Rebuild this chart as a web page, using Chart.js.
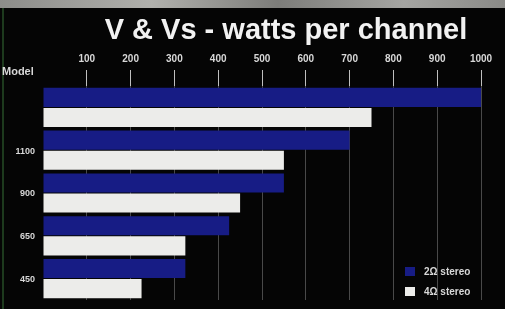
<!DOCTYPE html>
<html>
<head>
<meta charset="utf-8">
<script src="https://cdn.jsdelivr.net/npm/chart.js@4"></script>
<style>
  html, body { margin: 0; padding: 0; }
  body {
    width: 505px; height: 309px; overflow: hidden; position: relative;
    background: #050505;
    font-family: "Liberation Sans", Arial, sans-serif;
  }
  .strip { position: absolute; left: 0; top: 0; width: 505px; height: 8px;
    background: linear-gradient(90deg, #8d8d8a, #b0b0ac 30%, #7d7d7a 55%, #a5a5a2 80%, #8a8a87); }
  .edge { position: absolute; left: 2px; top: 8px; width: 2px; height: 301px; background: #1d3a1d; }
  .title { position: absolute; left: 96px; top: 13px; width: 380px; text-align: center;
    color: #f2f2f2; font-weight: bold; font-size: 29px; }
  .model { position: absolute; left: 2px; top: 65px; color: #d8d8d8; font-weight: bold; font-size: 11px; }
  #chart { position: absolute; left: 0; top: 0; }
</style>
</head>
<body>
<div class="strip"></div>
<div class="edge"></div>
<canvas id="chart" width="505" height="309"></canvas>
<div class="title">V &amp; Vs - watts per channel</div>
<div class="model">Model</div>
<script>
const CATEGORIES = ['', '1100', '900', '650', '450'];
const TWO_OHM = [1000, 700, 550, 425, 325];
const FOUR_OHM = [750, 550, 450, 325, 225];
const SERIES_LABELS = ['2\u03a9 stereo', '4\u03a9 stereo'];

const COLORS = {
  blue: '#171c85',
  white: '#ececea',
  grid: 'rgba(200, 200, 200, 0.35)',
  tick: 'rgba(225, 225, 225, 0.85)',
  text: '#d8d8d8',
};

// legend drawn inside the plot, bottom right
const insideLegend = {
  id: 'insideLegend',
  afterDraw(chart) {
    const { ctx, chartArea } = chart;
    const x = chartArea.right - 76;
    let y = chartArea.bottom - 33;
    ctx.save();
    ctx.font = 'bold 10px "Liberation Sans", Arial, sans-serif';
    ctx.textBaseline = 'middle';
    chart.data.datasets.forEach((ds) => {
      ctx.fillStyle = ds.backgroundColor;
      ctx.fillRect(x, y, 10, 9);
      ctx.fillStyle = COLORS.text;
      ctx.fillText(ds.label, x + 19, y + 5);
      y += 20;
    });
    ctx.restore();
  },
};

new Chart(document.getElementById('chart'), {
  type: 'bar',
  data: {
    labels: CATEGORIES,
    datasets: [
      { label: SERIES_LABELS[0], data: TWO_OHM, backgroundColor: COLORS.blue },
      { label: SERIES_LABELS[1], data: FOUR_OHM, backgroundColor: COLORS.white },
    ],
  },
  options: {
    indexAxis: 'y',
    responsive: false,
    animation: false,
    layout: { padding: { top: 48, right: 24, bottom: 9, left: 0 } },
    datasets: { bar: { categoryPercentage: 0.94, barPercentage: 0.95 } },
    plugins: {
      legend: { display: false },
      tooltip: { enabled: false },
    },
    scales: {
      x: {
        position: 'top',
        min: 0,
        max: 1000,
        border: { display: false },
        grid: {
          color: (c) => (c.tick && c.tick.value === 0 ? 'transparent' : COLORS.grid),
          tickColor: (c) => (c.tick && c.tick.value === 0 ? 'transparent' : COLORS.tick),
          tickLength: 16,
        },
        ticks: {
          stepSize: 100,
          padding: 5,
          color: COLORS.text,
          font: { family: '"Liberation Sans", Arial, sans-serif', size: 10, weight: 'bold' },
          callback: (v) => (v === 0 ? '' : v),
        },
      },
      y: {
        afterFit: (axis) => {
          axis.width = 43;
          axis.paddingTop = 0;
          axis.paddingBottom = 0;
        },
        border: { display: false },
        grid: { display: false, drawTicks: false },
        ticks: {
          color: COLORS.text,
          padding: 8,
          labelOffset: 1,
          font: { family: '"Liberation Sans", Arial, sans-serif', size: 9, weight: 'bold' },
        },
      },
    },
  },
  plugins: [insideLegend],
});
</script>
</body>
</html>
